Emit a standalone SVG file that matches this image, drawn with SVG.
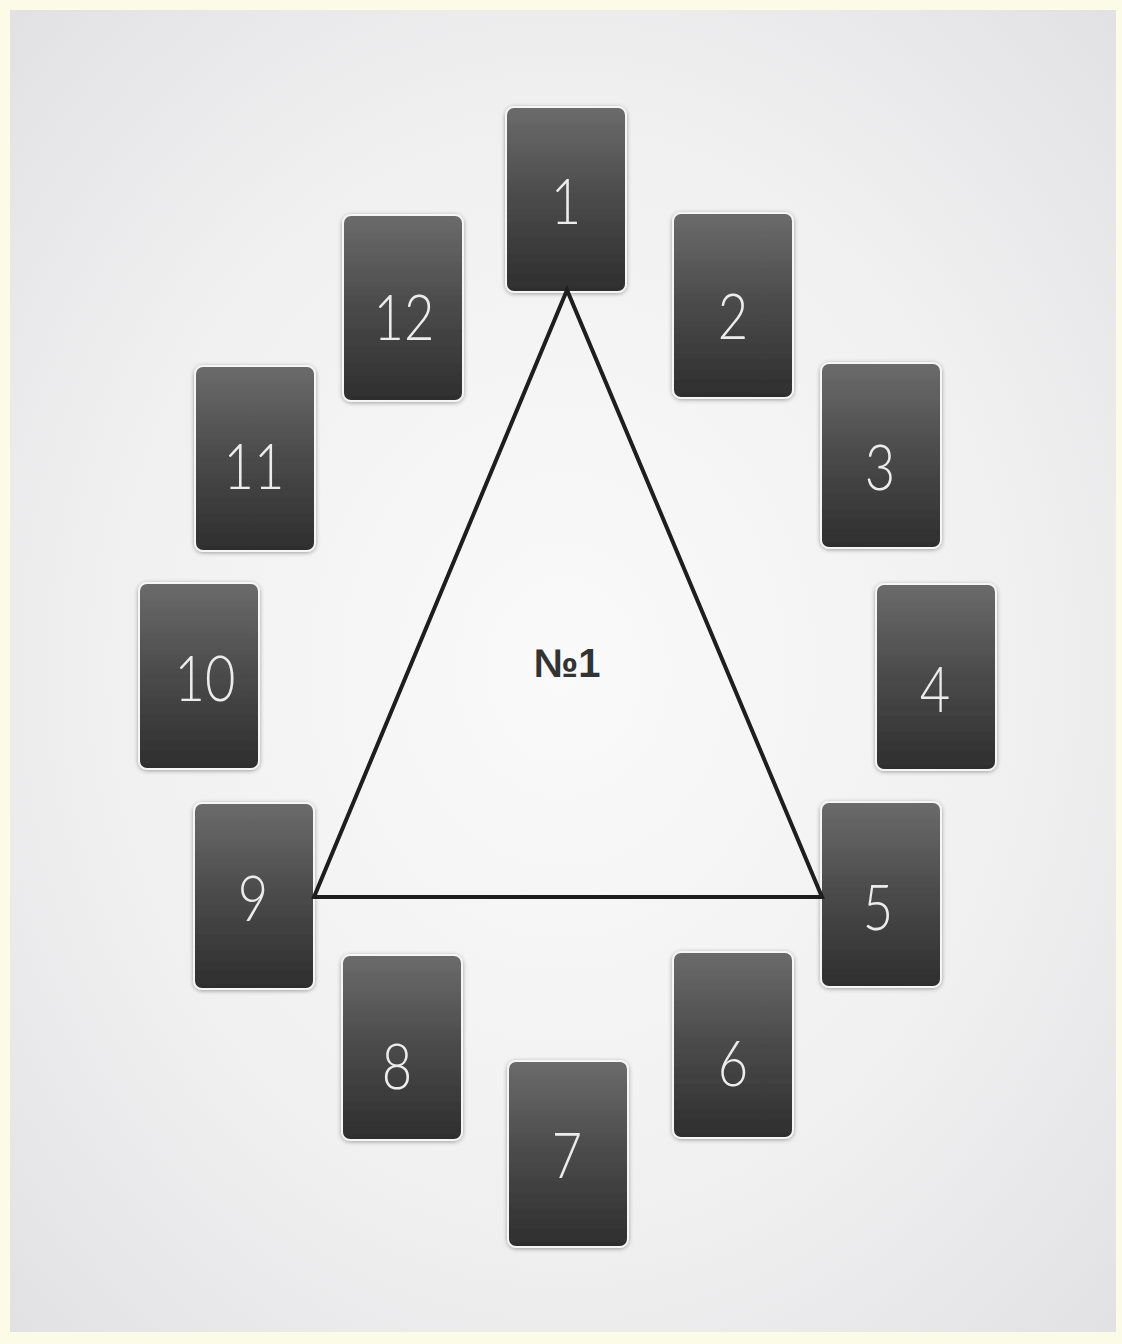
<svg xmlns="http://www.w3.org/2000/svg" width="1122" height="1344" viewBox="0 0 1122 1344">
<defs>
<radialGradient id="bg" cx="0.5" cy="0.5" r="0.7">
<stop offset="0" stop-color="#fafafa"/>
<stop offset="0.6" stop-color="#f0f0f1"/>
<stop offset="1" stop-color="#e2e2e4"/>
</radialGradient>
<linearGradient id="card" x1="0" y1="0" x2="0" y2="1">
<stop offset="0" stop-color="#6b6b6b"/>
<stop offset="0.5" stop-color="#4a4a4a"/>
<stop offset="1" stop-color="#2e2e2e"/>
</linearGradient>
<filter id="sh" x="-20%" y="-20%" width="140%" height="140%">
<feDropShadow dx="0" dy="1" stdDeviation="2" flood-color="#000" flood-opacity="0.35"/>
</filter>
<style>
.c{fill:url(#card);stroke:#f6f6f6;stroke-width:2;filter:url(#sh)}
.n{font-family:Lato,"Liberation Sans",sans-serif;font-weight:300;font-size:64px;fill:#ececec;text-anchor:middle}
</style>
</defs>
<rect x="0" y="0" width="1122" height="1344" fill="#fbfbe8"/>
<rect x="10" y="10" width="1106" height="1322" fill="url(#bg)"/>
<g id="card1"><rect class="c" x="506" y="107" width="120" height="185" rx="8"/><text class="n" transform="translate(566,224) scale(0.82,1)">1</text></g>
<g id="card2"><rect class="c" x="673" y="213" width="120" height="185" rx="8"/><text class="n" transform="translate(733,339) scale(0.82,1)">2</text></g>
<g id="card3"><rect class="c" x="821" y="363" width="120" height="185" rx="8"/><text class="n" transform="translate(880,490) scale(0.82,1)">3</text></g>
<g id="card4"><rect class="c" x="876" y="584" width="120" height="186" rx="8"/><text class="n" transform="translate(935,712) scale(0.82,1)">4</text></g>
<g id="card5"><rect class="c" x="821" y="802" width="120" height="185" rx="8"/><text class="n" transform="translate(878,930) scale(0.82,1)">5</text></g>
<g id="card6"><rect class="c" x="673" y="952" width="120" height="186" rx="8"/><text class="n" transform="translate(733,1086) scale(0.82,1)">6</text></g>
<g id="card7"><rect class="c" x="508" y="1061" width="120" height="186" rx="8"/><text class="n" transform="translate(567,1178) scale(0.82,1)">7</text></g>
<g id="card8"><rect class="c" x="342" y="955" width="120" height="185" rx="8"/><text class="n" transform="translate(397,1089) scale(0.82,1)">8</text></g>
<g id="card9"><rect class="c" x="194" y="803" width="120" height="186" rx="8"/><text class="n" transform="translate(253,921) scale(0.82,1)">9</text></g>
<g id="card10"><rect class="c" x="139" y="583" width="120" height="186" rx="8"/><text class="n" transform="translate(205,701) scale(0.82,1)">10</text></g>
<g id="card11"><rect class="c" x="195" y="366" width="120" height="185" rx="8"/><text class="n" transform="translate(254,489) scale(0.82,1)">11</text></g>
<g id="card12"><rect class="c" x="343" y="215" width="120" height="186" rx="8"/><text class="n" transform="translate(404,340) scale(0.82,1)">12</text></g>
<g id="connectors">
<polygon points="567,290 314,897 822,897" fill="none" stroke="#1e1e1e" stroke-width="4" stroke-linejoin="miter"/>
</g>
<text x="567" y="677" font-family="'Liberation Sans',Arial,sans-serif" font-weight="bold" font-size="40" fill="#333" text-anchor="middle">№1</text>
</svg>
